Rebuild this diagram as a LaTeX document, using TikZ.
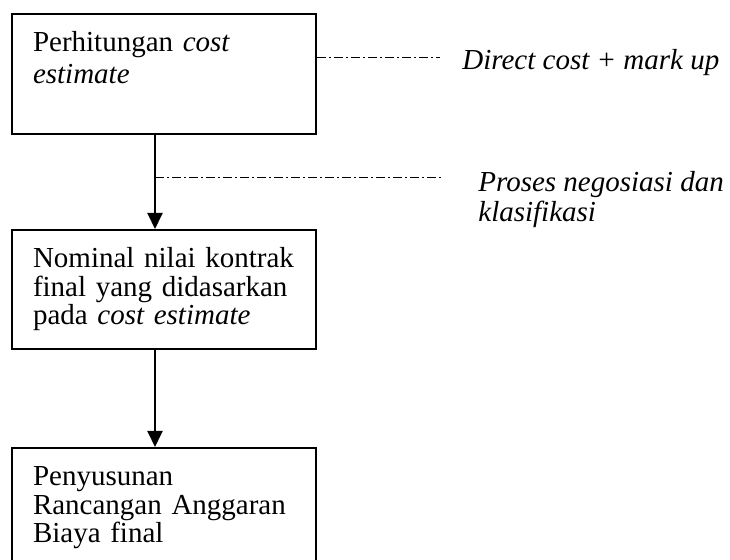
\documentclass[tikz,border=0pt]{standalone}
\usepackage{fontspec}
\setmainfont{Liberation Serif}
\usetikzlibrary{arrows.meta}

\begin{document}
\begin{tikzpicture}[x=0.5pt, y=-0.5pt,
  font=\fontsize{14.5}{14.15}\selectfont,
  box/.style={draw, line width=1pt, anchor=north west, inner xsep=10.5pt, inner ysep=0pt,
    text width=131pt, align=left, text height=19pt, text depth=#1},
  note/.style={anchor=base west, inner sep=0pt, align=left, font=\fontsize{14.5}{15}\selectfont\itshape},
  flow/.style={line width=1pt, -{Triangle[length=8pt, width=7.5pt]}},
  dashdot/.style={line width=0.6pt, dash pattern=on 4.5pt off 1.5pt on 1pt off 1.5pt}]
\clip (0,0) rectangle (730,560);

\node[box=41pt] (hitung) at (11,13) {Perhitungan \textit{cost}\\[1.75pt]\textit{estimate}};
\node[box=40.5pt] (nominal) at (11,229) {Nominal nilai kontrak\\final yang didasarkan\\pada \textit{cost estimate}};
\node[box=50pt] (rab) at (11,447) {Penyusunan\\Rancangan Anggaran\\Biaya final};

\node[note] (markup) at (462,70) {Direct cost + mark up};
% base anchor sits on the last line
\node[note] (nego) at (478,222) {Proses negosiasi dan\\klasifikasi};

\coordinate (ax) at (155,0);
\coordinate (d1) at (440,57.5);
\coordinate (d2) at (442,177.5);

\draw[flow] (hitung.south -| ax) -- (nominal.north -| ax);
\draw[flow] (nominal.south -| ax) -- (rab.north -| ax);
\draw[dashdot] (hitung.east |- d1) -- (d1);
\draw[dashdot] (ax |- d2) -- (d2);
\end{tikzpicture}
\end{document}
